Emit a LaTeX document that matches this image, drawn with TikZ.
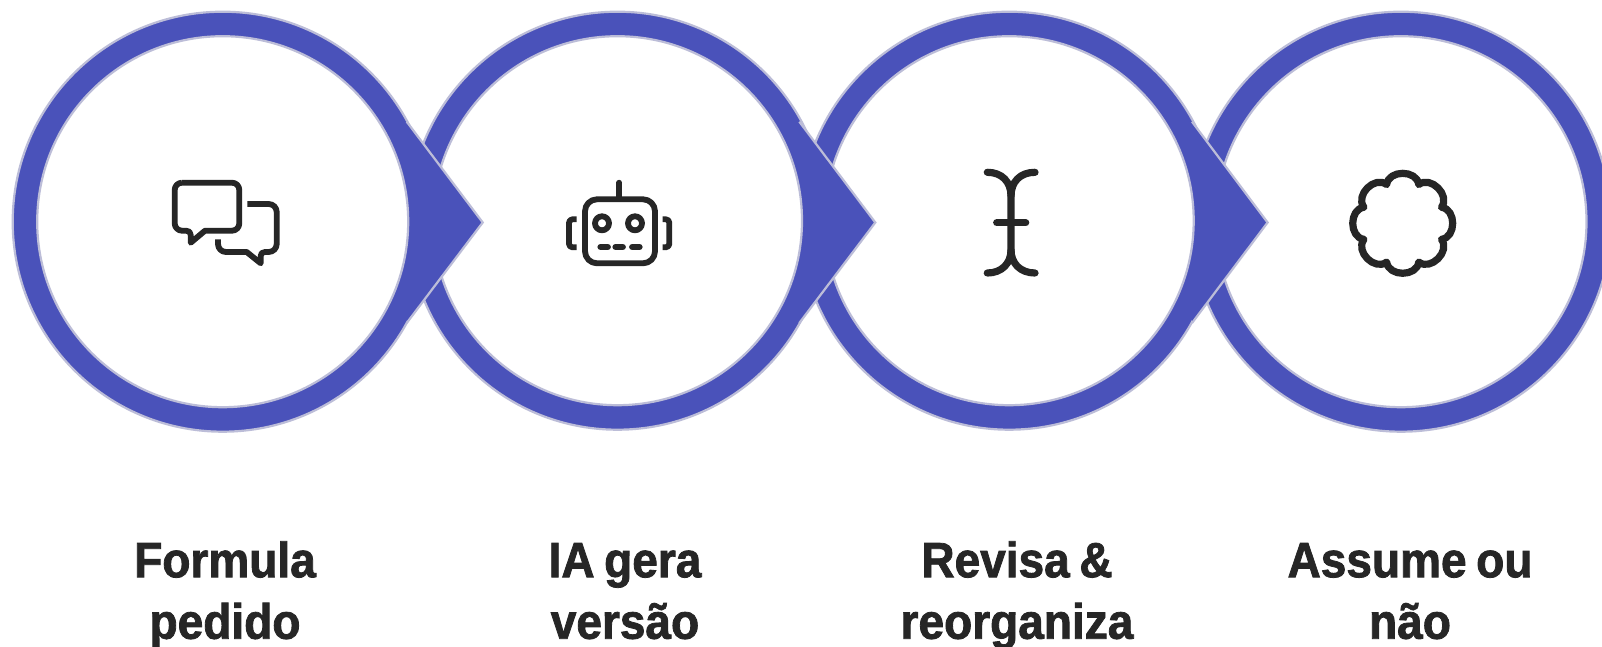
\documentclass[tikz,border=0pt]{standalone}
\usepackage{fontspec}
\setmainfont[BoldFeatures={FakeStretch=0.93,FakeBold=1.6,WordSpace=0.75}]{Liberation Sans}
\definecolor{ringblue}{HTML}{4A52BA}
\definecolor{ringedge}{HTML}{BCBDD8}
\definecolor{ink}{HTML}{262626}
\tikzset{
  ringdisc/.style={circle,inner sep=0pt,outer sep=0pt,minimum size=420pt,fill=ringblue,draw=ringedge,line width=2.2pt},
  holedisc/.style={circle,inner sep=0pt,outer sep=0pt,minimum size=371pt,fill=white,draw=ringedge,line width=2.2pt},
  ringsmall/.style={minimum size=418pt},
  holesmall/.style={minimum size=369pt},
  pointer/.style={fill=ringblue,draw=none},
  pointeredge/.style={draw=ringedge,line width=2.2pt,line join=miter},
  icon/.style={draw=ink,line width=5.8pt,line join=round,fill=none},
  iconthick/.style={draw=ink,line width=7.2pt,line join=round,line cap=round,fill=none},
  caption/.style={anchor=north,inner sep=0pt,align=center,text=ink,font=\bfseries\fontsize{49.5}{61.5}\selectfont}
}
\newcommand{\firstline}{\rule{0pt}{40pt}}
\begin{document}
\begin{tikzpicture}[x=1pt,y=-1pt]
\useasboundingbox (0,0) rectangle (1602,647);
\clip (0,0) rectangle (1602,647);
\fill[white] (0,0) rectangle (1602,647);
% circle 4
\node[ringdisc] (r4) at (1401,221.7) {};
\node[holedisc] (h4) at (1401,221.7) {};
% circle 3
\node[ringdisc,ringsmall] (r3) at (1009.2,220.7) {};
\fill[pointer] (1192,121.7) -- (1267.6,222.5) -- (1192,323) -- cycle;
\draw[pointeredge] (1192,121.7) -- (1267.6,222.5) -- (1192,323);
\node[holedisc,holesmall] (h3) at (1009.2,220.7) {};
% circle 2
\node[ringdisc,ringsmall] (r2) at (617.5,220.7) {};
\fill[pointer] (799.3,121.7) -- (875.3,222.5) -- (799.3,323) -- cycle;
\draw[pointeredge] (799.3,121.7) -- (875.3,222.5) -- (799.3,323);
\node[holedisc,holesmall] (h2) at (617.5,220.7) {};
% circle 1
\node[ringdisc] (r1) at (222.7,221.7) {};
\fill[pointer] (406.7,121.7) -- (482.7,222.5) -- (406.7,323) -- cycle;
\draw[pointeredge] (406.7,121.7) -- (482.7,222.5) -- (406.7,323);
\node[holedisc] (h1) at (222.7,221.7) {};
% icon 1: speech bubbles
\draw[icon] (182,182.7) -- (232,182.7) arc[start angle=-90,end angle=0,radius=7.3] -- (239.3,223.4) arc[start angle=0,end angle=90,radius=7.3] -- (205,230.7) -- (190.7,242.7) -- (190.7,235) .. controls (190.7,232) and (189,230.7) .. (186,230.7) -- (182,230.7) arc[start angle=90,end angle=180,radius=7.3] -- (174.7,190) arc[start angle=180,end angle=270,radius=7.3];
\draw[icon] (247.3,204) -- (268.7,204) arc[start angle=-90,end angle=0,radius=8] -- (276.7,244) arc[start angle=0,end angle=90,radius=8] -- (265,252) .. controls (262,252) and (260.7,253.5) .. (260.7,256) -- (260.7,263.3) -- (246.7,252) -- (226,252) arc[start angle=90,end angle=180,radius=8] -- (218,239.3);
% icon 2: robot
\draw[icon,line cap=round] (619.3,182.7) -- (619.3,198);
\draw[icon] (597,199.3) -- (643,199.3) arc[start angle=-90,end angle=0,radius=12] -- (655,251.3) arc[start angle=0,end angle=90,radius=12] -- (597,263.3) arc[start angle=90,end angle=180,radius=12] -- (585,211.3) arc[start angle=180,end angle=270,radius=12] -- cycle;
\draw[icon] (602,223.3) circle[radius=7];
\draw[icon] (635,223.3) circle[radius=7];
\draw[icon,line cap=round,line width=6.2pt] (600.5,247) -- (607.8,247) (615.5,247) -- (622.8,247) (632.2,247) -- (639.5,247);
\draw[icon] (576.7,219.3) -- (572.5,219.3) .. controls (570.5,219.3) and (569,220.8) .. (569,222.8) -- (569,243.8) .. controls (569,245.8) and (570.5,247.3) .. (572.5,247.3) -- (576.7,247.3);
\draw[icon] (662.7,219.3) -- (665.8,219.3) .. controls (667.8,219.3) and (669.3,220.8) .. (669.3,222.8) -- (669.3,243.8) .. controls (669.3,245.8) and (667.8,247.3) .. (665.8,247.3) -- (662.7,247.3);
% icon 3: text cursor
\draw[iconthick] (987.3,172.3) .. controls (1002,172.3) and (1011,182) .. (1011,196) -- (1011,250) .. controls (1011,263) and (1002,273) .. (987.3,273);
\draw[iconthick] (1035,172.3) .. controls (1020,172.3) and (1011,182) .. (1011,196);
\draw[iconthick] (1035,273) .. controls (1020,273) and (1011,263) .. (1011,250);
\draw[iconthick] (996.7,222.7) -- (1025.7,222.7);
% icon 4: flower
\begin{scope}[shift={(1402.7,223.3)}]
\draw[iconthick] (67.5:42)
  \foreach \a in {90,135,...,405} { .. controls (\a-14.6:55.5) and (\a+14.6:55.5) .. (\a+22.5:42) } -- cycle;
\end{scope}
% captions
\node[caption] (t1) at (225,537) {\firstline Formula\\pedido};
\node[caption] (t2) at (625,537) {\firstline IA gera\\versão};
\node[caption] (t3) at (1017,537) {\firstline Revisa \&\\reorganiza};
\node[caption] (t4) at (1410,537) {\firstline Assume ou\\não};
\end{tikzpicture}
\end{document}
